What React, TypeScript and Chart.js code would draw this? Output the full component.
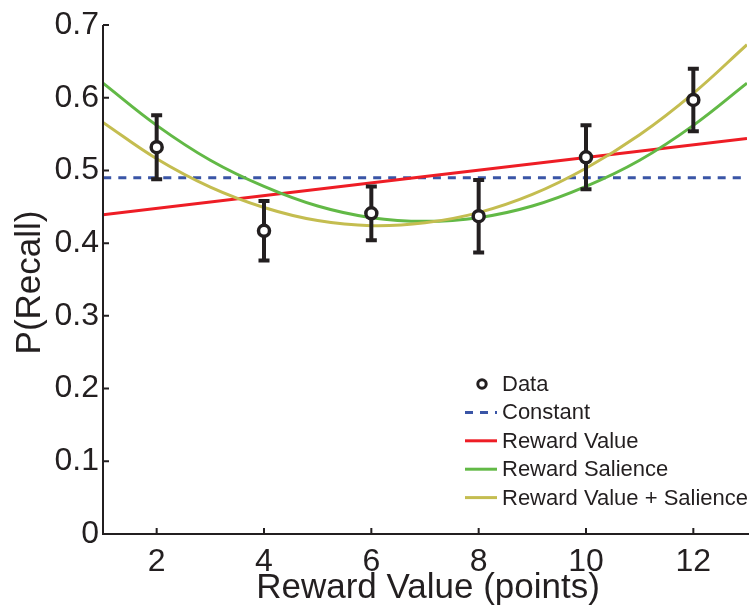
import React, { useEffect, useRef } from "react";
import { Chart, registerables } from "chart.js";

Chart.register(...registerables);

// ---- data ----
const xTicks = [2, 4, 6, 8, 10, 12];
const yTicks = [0, 0.1, 0.2, 0.3, 0.4, 0.5, 0.6, 0.7];
const yTickLabels = ["0", "0.1", "0.2", "0.3", "0.4", "0.5", "0.6", "0.7"];

const dataX = [2, 4, 6, 8, 10, 12];
const dataMeans = [0.532, 0.417, 0.441, 0.437, 0.518, 0.597];
const dataErrors = [0.044, 0.041, 0.037, 0.05, 0.044, 0.043];

const constantX = [1, 13];
const constantY = [0.49, 0.49];

const valueX = [1, 13];
const valueY = [0.439, 0.544];

const fitX = [1, 2, 3, 4, 5, 6, 7, 8, 9, 10, 11, 12, 13];
const salienceY = [0.62, 0.562, 0.514, 0.478, 0.451, 0.435, 0.43, 0.435, 0.451, 0.478, 0.514, 0.562, 0.62];
const combinedY = [0.566, 0.516, 0.477, 0.449, 0.431, 0.424, 0.428, 0.442, 0.467, 0.503, 0.549, 0.606, 0.673];

const seriesLabels = ["Data", "Constant", "Reward Value", "Reward Salience", "Reward Value + Salience"];

// ---- styles ----
const INK = "#231f20";
const BLUE = "#3a55a6";
const RED = "#ee1d25";
const GREEN = "#62b946";
const YELLOW = "#c4bd50";
const FONT = '"Liberation Sans", Arial, Helvetica, sans-serif';

const pts = (xs: number[], ys: number[]) => xs.map((x, i) => ({ x, y: ys[i] }));

export default function App() {
  const ref = useRef<HTMLCanvasElement | null>(null);

  useEffect(() => {
    const canvas = ref.current;
    if (!canvas) return;

    const customPlugin = {
      id: "customDecor",
      beforeDatasetDraw(chart: any, args: any) {
        if (args.index !== 0) return;
        const { ctx } = chart;
        const xs = chart.scales.x;
        const ys = chart.scales.y;
        ctx.save();
        ctx.strokeStyle = INK;
        ctx.lineWidth = 4;
        ctx.lineCap = "butt";
        dataX.forEach((xv, i) => {
          const px = xs.getPixelForValue(xv);
          const top = ys.getPixelForValue(dataMeans[i] + dataErrors[i]);
          const bot = ys.getPixelForValue(dataMeans[i] - dataErrors[i]);
          ctx.beginPath();
          ctx.moveTo(px, top);
          ctx.lineTo(px, bot);
          ctx.moveTo(px - 5.5, top);
          ctx.lineTo(px + 5.5, top);
          ctx.moveTo(px - 5.5, bot);
          ctx.lineTo(px + 5.5, bot);
          ctx.stroke();
        });
        ctx.restore();
      },
      afterDraw(chart: any) {
        const { ctx, chartArea } = chart;
        const xs = chart.scales.x;
        const ys = chart.scales.y;
        ctx.save();
        // axes
        ctx.strokeStyle = INK;
        ctx.lineWidth = 2;
        const left = chartArea.left;
        const bottom = chartArea.bottom;
        ctx.beginPath();
        ctx.moveTo(left, ys.getPixelForValue(0.7));
        ctx.lineTo(left, bottom + 1);
        ctx.moveTo(left - 1, bottom);
        ctx.lineTo(chart.width, bottom);
        ctx.stroke();
        // inward ticks
        ctx.beginPath();
        ys.ticks.forEach((t: any) => {
          const py = ys.getPixelForValue(t.value);
          ctx.moveTo(left, py);
          ctx.lineTo(left + 6, py);
        });
        xs.ticks.forEach((t: any) => {
          const px = xs.getPixelForValue(t.value);
          ctx.moveTo(px, bottom);
          ctx.lineTo(px, bottom - 6);
        });
        ctx.stroke();

        // axis titles
        ctx.fillStyle = INK;
        ctx.font = `35px ${FONT}`;
        ctx.textAlign = "center";
        ctx.textBaseline = "alphabetic";
        ctx.fillText("Reward Value (points)", (chartArea.left + chartArea.right) / 2 + 3, 598);
        ctx.save();
        ctx.translate(30, (chartArea.top + chartArea.bottom) / 2 + 3);
        ctx.rotate(-Math.PI / 2);
        ctx.textBaseline = "middle";
        ctx.fillText("P(Recall)", 0, 0);
        ctx.restore();

        // legend
        const rowY0 = 384;
        const rowStep = 28.4;
        const sx0 = 465;
        const sx1 = 497;
        const textX = 502;
        ctx.font = `22px ${FONT}`;
        ctx.textAlign = "left";
        ctx.textBaseline = "middle";
        chart.data.datasets.forEach((ds: any, i: number) => {
          const ry = rowY0 + i * rowStep;
          if (i === 0) {
            ctx.beginPath();
            ctx.arc((sx0 + sx1) / 2 + 1, ry, 4.2, 0, Math.PI * 2);
            ctx.fillStyle = "#fff";
            ctx.fill();
            ctx.lineWidth = 3;
            ctx.strokeStyle = INK;
            ctx.stroke();
          } else {
            ctx.beginPath();
            ctx.setLineDash(ds.borderDash || []);
            ctx.lineWidth = 3;
            ctx.strokeStyle = ds.borderColor;
            ctx.moveTo(sx0, ry);
            ctx.lineTo(sx1, ry);
            ctx.stroke();
            ctx.setLineDash([]);
          }
          ctx.fillStyle = INK;
          ctx.fillText(ds.label, textX, ry + 1);
        });
        ctx.restore();
      },
    };

    const lineDs = (label: string, data: any[], color: string, order: number, dash?: number[]) => ({
      label,
      data,
      borderColor: color,
      backgroundColor: color,
      borderWidth: 3,
      borderDash: dash || [],
      pointRadius: 0,
      pointHoverRadius: 0,
      tension: 0.4,
      fill: false,
      order,
    });

    const chart = new Chart(canvas, {
      type: "line",
      data: {
        datasets: [
          {
            label: seriesLabels[0],
            data: pts(dataX, dataMeans),
            showLine: false,
            pointRadius: 5.5,
            pointBorderWidth: 3.5,
            pointBackgroundColor: "#ffffff",
            pointBorderColor: INK,
            borderColor: INK,
            order: 0,
          } as any,
          lineDs(seriesLabels[1], pts(constantX, constantY), BLUE, 4, [8, 7]),
          lineDs(seriesLabels[2], pts(valueX, valueY), RED, 3),
          lineDs(seriesLabels[3], pts(fitX, salienceY), GREEN, 2),
          lineDs(seriesLabels[4], pts(fitX, combinedY), YELLOW, 1),
        ],
      },
      plugins: [customPlugin],
      options: {
        responsive: false,
        animation: false,
        devicePixelRatio: 1,
        layout: { autoPadding: false, padding: { top: 25, right: 2, left: 0, bottom: 0 } },
        plugins: { legend: { display: false }, tooltip: { enabled: false } },
        events: [],
        scales: {
          x: {
            type: "linear",
            min: 1,
            max: 13,
            afterBuildTicks: (s: any) => {
              s.ticks = xTicks.map((v) => ({ value: v }));
            },
            afterFit: (s: any) => {
              s.height = 72;
              s.paddingLeft = 0;
              s.paddingRight = 0;
            },
            grid: { display: false, drawTicks: false },
            border: { display: false },
            ticks: {
              autoSkip: false,
              maxRotation: 0,
              padding: 9,
              color: INK,
              font: { family: FONT, size: 32 },
              callback: (v: any) => String(v),
            },
          },
          y: {
            type: "linear",
            min: 0,
            max: 0.7,
            afterBuildTicks: (s: any) => {
              s.ticks = yTicks.map((v) => ({ value: v }));
            },
            afterFit: (s: any) => {
              s.width = 103;
              s.paddingTop = 0;
              s.paddingBottom = 0;
            },
            grid: { display: false, drawTicks: false },
            border: { display: false },
            ticks: {
              autoSkip: false,
              padding: 4,
              color: INK,
              font: { family: FONT, size: 32 },
              callback: (v: any) => {
                const idx = yTicks.findIndex((t) => Math.abs(t - Number(v)) < 1e-6);
                return idx >= 0 ? yTickLabels[idx] : "";
              },
            },
          },
        },
      } as any,
    });

    return () => chart.destroy();
  }, []);

  return (
    <div style={{ position: "fixed", left: 0, top: 0, width: 749, height: 606, background: "#fff" }}>
      <canvas ref={ref} width={749} height={606} style={{ display: "block", width: 749, height: 606 }} />
    </div>
  );
}
